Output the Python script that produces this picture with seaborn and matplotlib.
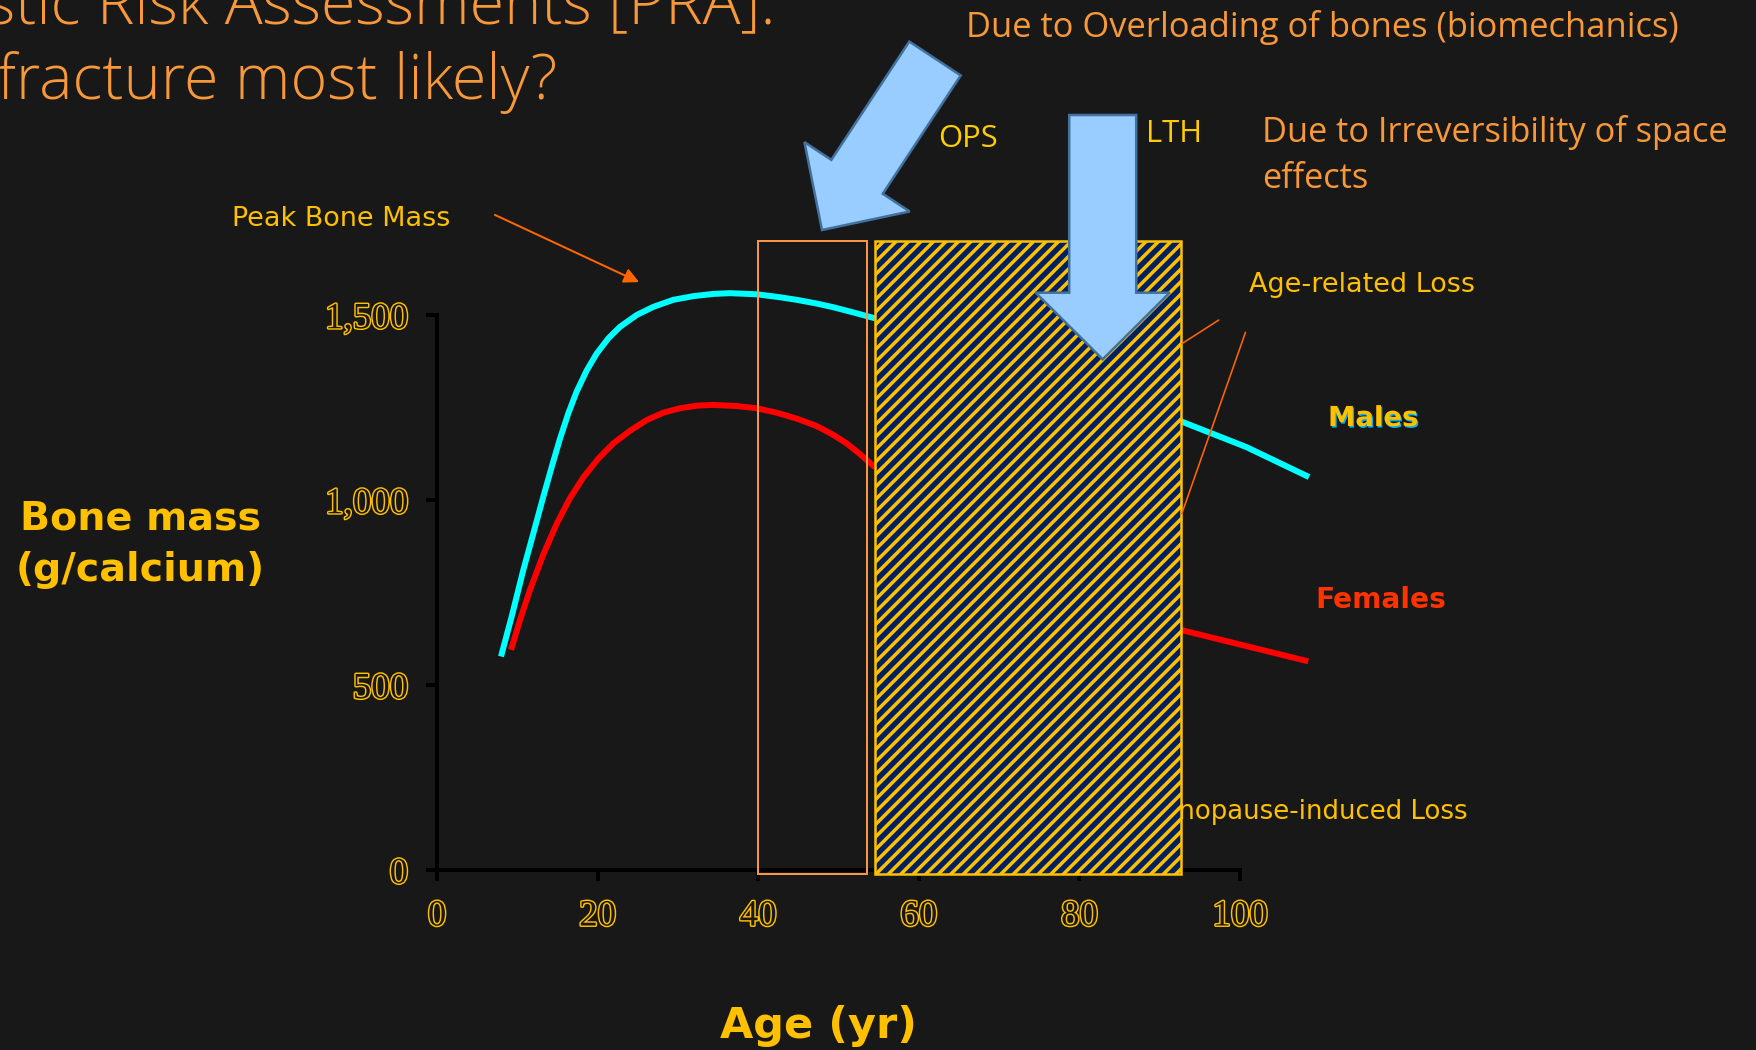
import numpy as np
import pandas as pd
import matplotlib
matplotlib.use("Agg")
import matplotlib.pyplot as plt
import matplotlib.patches as mpatches
import matplotlib.patheffects as pe
from matplotlib.ticker import FuncFormatter
import seaborn as sns

# ---- data -------------------------------------------------------------
# bone mass (g calcium) against age (yr); the middle years sit under the LTH window
male_age_early = [7.97, 9.30, 10.75, 12.0, 13.24, 14.28, 15.32, 16.35, 17.39, 18.64, 19.89,
                  21.34, 22.79, 24.87, 26.94, 29.43, 31.92, 34.41, 36.49, 39.81, 42.71,
                  44.79, 47.28, 49.35, 51.84, 54.55]
male_mass_early = [577, 685, 811, 910, 1009, 1089, 1166, 1234, 1293, 1350, 1396,
                   1437, 1468, 1500, 1522, 1541, 1551, 1557, 1559, 1556, 1548,
                   1541, 1531, 1521, 1507, 1491]
male_age_late = [92.6, 100.8, 108.6]
male_mass_late = [1213, 1143, 1062]

female_age_early = [9.22, 10.34, 11.58, 13.24, 14.91, 16.56, 18.22, 20.09, 21.96, 24.03,
                    26.11, 28.18, 30.26, 32.34, 34.41, 37.32, 39.81, 42.30, 44.79, 47.28,
                    49.35, 51.02, 52.68, 54.55]
female_mass_early = [595, 676, 757, 853, 936, 1005, 1061, 1112, 1153, 1187,
                     1216, 1236, 1248, 1255, 1257, 1254, 1248, 1236, 1220, 1200,
                     1176, 1153, 1124, 1088]
female_age_late = [92.6, 108.5]
female_mass_late = [649, 564]

# age windows (yr) and their vertical extent (g calcium)
ops_window = [40.0, 53.5]
lth_window = [54.6, 92.6]
window_mass = [-11, 1700]

x_ticks = [0, 20, 40, 60, 80, 100]
y_ticks = [0, 500, 1000, 1500]

# ---- styling ----------------------------------------------------------
W, H, DPI = 1756, 1050, 75
P = 72 / DPI  # points per pixel

sns.set_theme(style="ticks")
plt.rcParams["font.family"] = ["DejaVu Sans"]
plt.rcParams["hatch.linewidth"] = 3.5 * P

BG = "#181818"
GOLD = "#FFC000"
YEL = "#FFCC00"
ORANGE_T = "#F7993A"
ORANGE_L = "#FF6600"
ARROW_FILL = "#99CCFF"
ARROW_EDGE = "#41719C"
HEAD_FONT = "Open Sans"

fig = plt.figure(figsize=(W / DPI, H / DPI), dpi=DPI, facecolor=BG)
ax = fig.add_axes([437 / W, 1 - 870 / H, (1240 - 437) / W, 555 / H])
ax.set_facecolor(BG)

rows = []
for sex, seg, ages, masses in [
    ("Males", "a", male_age_early, male_mass_early),
    ("Males", "b", male_age_late, male_mass_late),
    ("Females", "a", female_age_early, female_mass_early),
    ("Females", "b", female_age_late, female_mass_late),
]:
    rows += [(sex, seg, a, m) for a, m in zip(ages, masses)]
df = pd.DataFrame(rows, columns=["sex", "segment", "age", "mass"])

sns.lineplot(data=df, x="age", y="mass", hue="sex", units="segment",
             estimator=None, sort=False, legend=False, ax=ax,
             palette={"Males": "#00FFFF", "Females": "#FF0000"},
             linewidth=6 * P, zorder=2)
for ln in ax.lines:
    ln.set_clip_on(False)
    ln.set_solid_capstyle("butt")
    ln.set_solid_joinstyle("round")

# risk windows
ax.add_patch(mpatches.Rectangle((ops_window[0], window_mass[0]),
                                ops_window[1] - ops_window[0], window_mass[1] - window_mass[0],
                                fill=False, edgecolor="#F79646", lw=2 * P, zorder=3, clip_on=False))
ax.add_patch(mpatches.Rectangle((lth_window[0], window_mass[0]),
                                lth_window[1] - lth_window[0], window_mass[1] - window_mass[0],
                                facecolor="#002060", edgecolor=GOLD, hatch="//", lw=2.5 * P,
                                zorder=4, clip_on=False))

ax.set_xlim(0, 100)
ax.set_ylim(0, 1500)
ax.set_xticks(x_ticks)
ax.set_yticks(y_ticks)
ax.yaxis.set_major_formatter(FuncFormatter(lambda v, _: f"{int(v):,}"))
ax.set_xlabel("")
ax.set_ylabel("")
sns.despine(ax=ax)
for s in ("left", "bottom"):
    ax.spines[s].set_linewidth(4 * P)
    ax.spines[s].set_color("black")
ax.tick_params(length=11 * P, width=4 * P, color="black", direction="out",
               pad=18 * P, labelsize=37 * P, labelcolor=BG)
outline = [pe.withStroke(linewidth=2.8, foreground=GOLD)]
for t in ax.xaxis.get_major_ticks() + ax.yaxis.get_major_ticks():
    t.label1.set_fontfamily("Liberation Serif")
    t.label1.set_path_effects(outline)

# ---- overlay in pixel space for annotations ---------------------------
ov = fig.add_axes([0, 0, 1, 1], zorder=5)
ov.set_xlim(0, W)
ov.set_ylim(H, 0)
ov.axis("off")
ov.patch.set_alpha(0)

# label partly hidden behind the LTH window
ax.text(1468, 819, "Menopause-induced Loss", transform=ov.transData, ha="right",
        va="baseline", color=GOLD, fontsize=26 * P, zorder=1, clip_on=False)

# block arrows
ov.add_patch(mpatches.FancyArrow(935, 58.5, -113, 171.5, width=61.6, head_width=126,
                                 head_length=63.7, length_includes_head=True,
                                 facecolor=ARROW_FILL, edgecolor=ARROW_EDGE, lw=2.5 * P))
ov.add_patch(mpatches.FancyArrow(1102.7, 115, 0, 244.3, width=67, head_width=134,
                                 head_length=66.6, length_includes_head=True,
                                 facecolor=ARROW_FILL, edgecolor=ARROW_EDGE, lw=2.5 * P))

# headings
ov.text(775, 23, "stic Risk Assessments [PRA].", ha="right", va="baseline",
        color=ORANGE_T, fontsize=63 * P, family=HEAD_FONT, weight="light")
ov.text(-3, 99, "fracture most likely?", ha="left", va="baseline",
        color=ORANGE_T, fontsize=63 * P, family=HEAD_FONT, weight="light")
ov.text(966, 37, "Due to Overloading of bones (biomechanics)", ha="left", va="baseline",
        color=ORANGE_T, fontsize=34.5 * P, family=HEAD_FONT)
ov.text(1262, 141.5, "Due to Irreversibility of space", ha="left", va="baseline",
        color=ORANGE_T, fontsize=34.4 * P, family=HEAD_FONT)
ov.text(1262, 187.5, "effects", ha="left", va="baseline",
        color=ORANGE_T, fontsize=34.4 * P, family=HEAD_FONT)
ov.text(938, 147, "OPS", ha="left", va="baseline", color=YEL, fontsize=31 * P, family=HEAD_FONT)
ov.text(1146, 142, "LTH", ha="left", va="baseline", color=YEL, fontsize=31 * P, family=HEAD_FONT)

# callouts
ov.text(232, 226, "Peak Bone Mass", ha="left", va="baseline", color=GOLD, fontsize=27 * P)
ov.annotate("", xy=(641, 283), xytext=(493, 214),
            arrowprops=dict(arrowstyle="-|>", color=ORANGE_L, lw=2 * P, mutation_scale=30))
ov.text(1249, 292, "Age-related Loss", ha="left", va="baseline", color=GOLD, fontsize=27 * P)
ov.plot([1181.7, 1218.8], [343.8, 320], color=ORANGE_L, lw=1.6 * P)
ov.plot([1181.7, 1245.5], [514, 332.3], color=ORANGE_L, lw=1.6 * P)

ov.text(1328, 426, "Males", ha="left", va="baseline", color=GOLD, fontsize=27.5 * P,
        weight="bold",
        path_effects=[pe.withSimplePatchShadow(offset=(1.2, -1.5), shadow_rgbFace="#00B0F0", alpha=1.0)])
ov.text(1315, 608, "Females", ha="left", va="baseline", color="#FF3300",
        fontsize=28 * P, weight="bold")

# axis titles
ov.text(140, 530, "Bone mass", ha="center", va="baseline", color=GOLD,
        fontsize=39.5 * P, weight="bold")
ov.text(140, 581, "(g/calcium)", ha="center", va="baseline", color=GOLD,
        fontsize=39.5 * P, weight="bold")
ov.text(819, 1038, "Age (yr)", ha="center", va="baseline", color=GOLD,
        fontsize=43 * P, weight="bold")

fig.savefig("out.png", dpi=DPI, facecolor=BG)
